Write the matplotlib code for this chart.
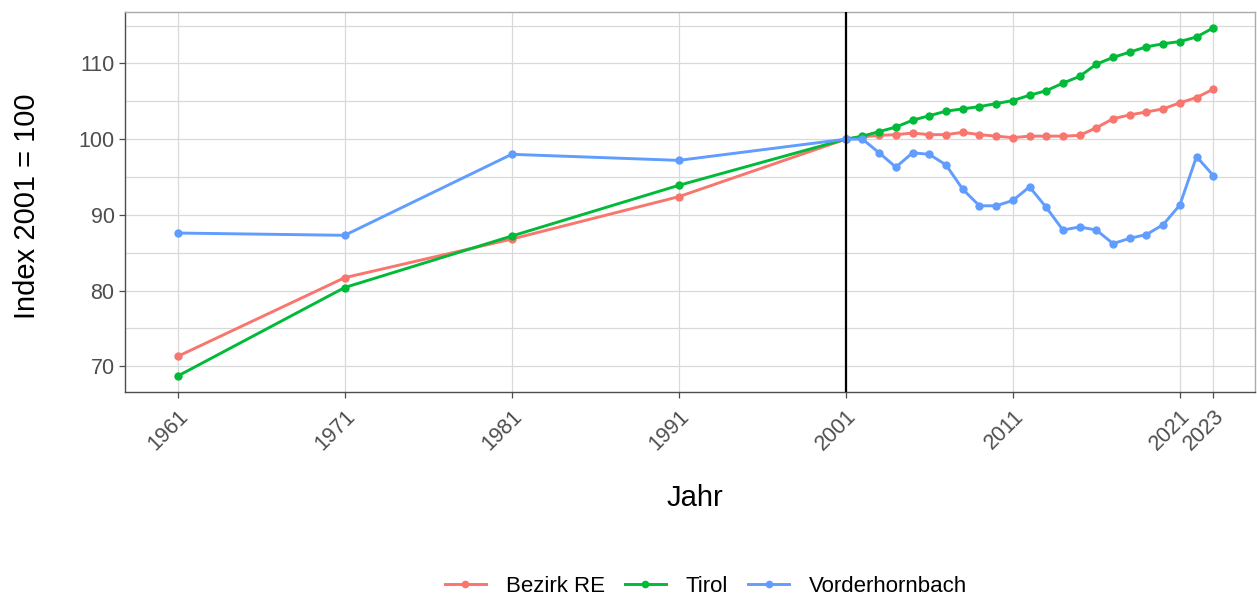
import matplotlib
matplotlib.use("Agg")
import matplotlib.pyplot as plt
from matplotlib.ticker import MultipleLocator

plt.rcParams["font.family"] = ["Liberation Sans", "DejaVu Sans"]

years = [1961, 1971, 1981, 1991, 2001] + list(range(2002, 2024))

bezirk_re = [71.3, 81.7, 86.8, 92.4, 100.0,
             100.3, 100.5, 100.6, 100.8, 100.6, 100.6, 100.9, 100.6, 100.4, 100.2,
             100.4, 100.4, 100.4, 100.5, 101.5, 102.7, 103.2, 103.6, 104.0, 104.8,
             105.5, 106.6]
tirol = [68.7, 80.4, 87.2, 93.9, 100.0,
         100.4, 101.0, 101.6, 102.5, 103.1, 103.7, 104.0, 104.3, 104.7, 105.1,
         105.8, 106.4, 107.4, 108.3, 109.9, 110.8, 111.5, 112.2, 112.6, 112.9,
         113.5, 114.7]
vorderhornbach = [87.6, 87.3, 98.0, 97.2, 100.0,
                  100.0, 98.2, 96.3, 98.2, 98.0, 96.6, 93.4, 91.2, 91.2, 91.9,
                  93.7, 91.0, 88.0, 88.4, 88.0, 86.2, 86.9, 87.4, 88.7, 91.3,
                  97.7, 95.2]

series_names = ["Bezirk RE", "Tirol", "Vorderhornbach"]
series_values = [bezirk_re, tirol, vorderhornbach]
colors = ["#F8766D", "#00BA38", "#619CFF"]
xtick_years = [1961, 1971, 1981, 1991, 2001, 2011, 2021, 2023]
ref_year = 2001

fig = plt.figure(figsize=(12.57, 5.96), dpi=100)
ax = fig.add_axes([125/1257, 1-392/596, (1255-125)/1257, (392-12)/596])

for name, vals, c in zip(series_names, series_values, colors):
    ax.plot(years, vals, color=c, lw=2.1, marker="o", ms=5, label=name, zorder=3)

ax.axvline(ref_year, color="black", lw=1.6, zorder=4)

ax.set_xlim(1957.85, 2025.5)
ax.set_ylim(66.6, 116.8)
ax.set_xticks(xtick_years)
ax.set_xticklabels([str(y) for y in xtick_years], rotation=45, ha="right",
                   va="top", rotation_mode="anchor")
ax.yaxis.set_major_locator(MultipleLocator(10))
ax.yaxis.set_minor_locator(MultipleLocator(5))
ax.grid(True, which="major", color="#d9d9d9", lw=0.9, zorder=0)
ax.grid(True, which="minor", axis="y", color="#d9d9d9", lw=0.9, zorder=0)
ax.tick_params(axis="both", which="major", labelsize=15.5, colors="#4d4d4d",
               length=4, width=0.9, labelcolor="#4d4d4d")
ax.tick_params(axis="y", which="minor", length=0)
ax.tick_params(axis="x", pad=6)
for s in ax.spines.values():
    s.set_color("#4d4d4d")
    s.set_linewidth(1.0)
ax.spines["top"].set_color("#aaaaaa")
ax.spines["right"].set_color("#aaaaaa")

ax.set_xlabel("Jahr", fontsize=21, va="center")
ax.xaxis.set_label_coords((695-125)/1130, (392-498)/380)
ax.set_ylabel("Index 2001 = 100", fontsize=21, va="center")
ax.yaxis.set_label_coords((27-125)/1130, 0.49)

leg = fig.legend(loc="center", bbox_to_anchor=(706/1257, 1-586/596), ncol=3,
                 frameon=False, fontsize=16, handlelength=1.85, columnspacing=0.9,
                 handletextpad=0.9)
for h in leg.legend_handles:
    h.set_markersize(4.5)

fig.savefig("out.png", dpi=100)
